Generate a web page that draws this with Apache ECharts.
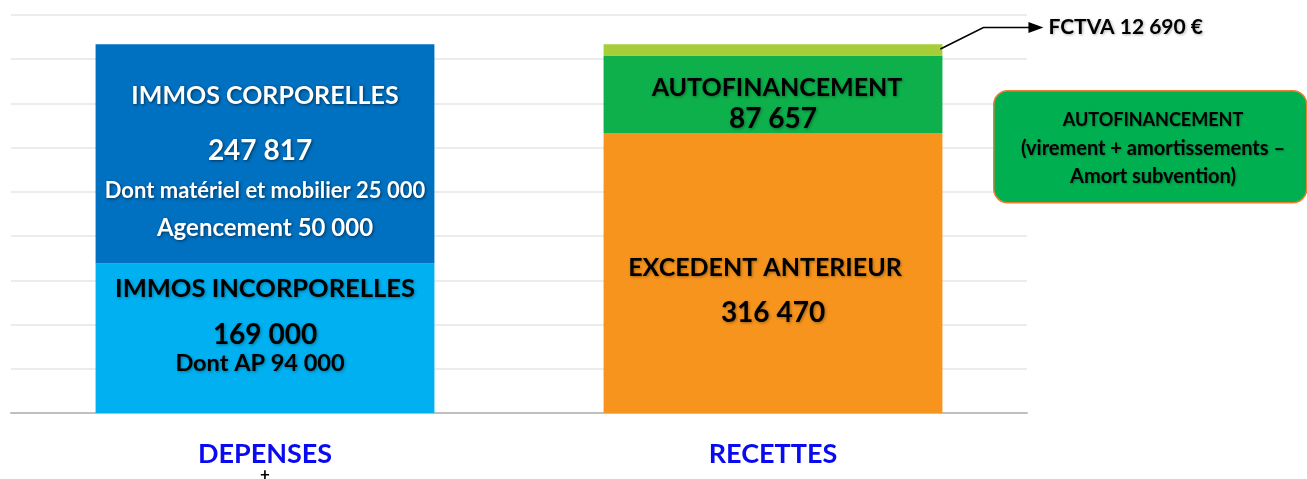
<!DOCTYPE html>
<html><head><meta charset="utf-8">
<script src="https://cdn.jsdelivr.net/npm/echarts@6/dist/echarts.min.js"></script>
<style>html,body{margin:0;padding:0;background:#fff}#c{width:1307px;height:479px}</style>
</head><body><div id="c"></div>
<script>
// ---- data ----
const categories = ['DEPENSES', 'RECETTES'];
const immosIncorporelles = [169000, '-'];
const immosCorporelles = [247817, '-'];
const excedentAnterieur = ['-', 316470];
const autofinancement = ['-', 87657];
const fctva = ['-', 12690];
const seriesNames = ['IMMOS INCORPORELLES', 'IMMOS CORPORELLES', 'EXCEDENT ANTERIEUR', 'AUTOFINANCEMENT', 'FCTVA'];
const corpDetails = ['Dont matériel et mobilier 25 000', 'Agencement 50 000'];
const incorpDetails = ['Dont AP 94 000'];
const boxLines = ['AUTOFINANCEMENT', '(virement + amortissements –', 'Amort subvention)'];
const yMax = 450000, yInterval = 50000;

// ---- helpers ----
const F = 'Lato, "Open Sans", sans-serif';
function fmt(n) { return String(n).replace(/\B(?=(\d{3})+(?!\d))/g, ' '); }
const shW = { textShadowColor: 'rgba(0,0,0,0.55)', textShadowBlur: 3, textShadowOffsetX: 1, textShadowOffsetY: 1 };
const shB = { textShadowColor: 'rgba(0,0,0,0.35)', textShadowBlur: 3, textShadowOffsetX: 1, textShadowOffsetY: 1 };
function rs(size, lh, color, sh, extra) {
  return Object.assign({ fontFamily: F, fontWeight: 'bold', fontSize: size, lineHeight: lh, color: color, verticalAlign: 'middle', align: 'center' }, sh, extra || {});
}
const BW = 0.667;

const chart = echarts.init(document.getElementById('c'), null, { renderer: 'canvas' });
const option = {
  animation: false,
  grid: { left: 11, right: 280, top: 15, bottom: 66, containLabel: false, outerBoundsMode: 'none' },
  xAxis: {
    type: 'category', data: categories,
    axisLine: { show: true, lineStyle: { color: '#bfbfbf', width: 2 } },
    axisTick: { show: false },
    axisLabel: {
      margin: 26, interval: 0,
      formatter: v => v === categories[0] ? '{a|' + v + '}\n{p|+}' : '{a|' + v + '}',
      rich: {
        a: { fontFamily: F, fontWeight: 'bold', fontSize: 27, lineHeight: 30, color: '#0a0af0', verticalAlign: 'middle' },
        p: { fontFamily: F, fontWeight: 'bold', fontSize: 17, lineHeight: 12, color: '#000', verticalAlign: 'middle' }
      }
    }
  },
  yAxis: {
    type: 'value', min: 0, max: yMax, interval: yInterval,
    axisLabel: { show: false }, axisLine: { show: false }, axisTick: { show: false },
    splitLine: { show: true, lineStyle: { color: '#ececec', width: 2 } }
  },
  series: [
    {
      name: seriesNames[0], type: 'bar', stack: 's', data: immosIncorporelles, barWidth: (BW * 100) + '%',
      itemStyle: { color: '#00b0f0' },
      label: {
        show: true, position: 'inside', offset: [0, -20],
        formatter: p => `{t|${p.seriesName}}\n{v|${fmt(p.value)}}\n{s|${incorpDetails[0]}}`,
        rich: { t: rs(25.5, 62, '#000', shB), v: rs(28, 29, '#000', shB), s: rs(23.5, 29, '#000', shB, { padding: [0, 10, 0, 0] }) }
      }
    },
    {
      name: seriesNames[1], type: 'bar', stack: 's', data: immosCorporelles,
      itemStyle: { color: '#0070c0' },
      label: {
        show: true, position: 'inside', offset: [0, 10],
        formatter: p => `{t|${p.seriesName}}\n{v|${fmt(p.value)}}\n{s|${corpDetails[0]}}\n{a|${corpDetails[1]}}`,
        rich: { t: rs(25, 50, '#fff', shW), v: rs(28, 60, '#fff', shW, { padding: [0, 10, 0, 0] }), s: rs(22, 19, '#fff', shW), a: rs(24, 57, '#fff', shW) }
      }
    },
    {
      name: seriesNames[2], type: 'bar', stack: 's', data: excedentAnterieur,
      itemStyle: { color: '#f7941d' },
      label: {
        show: true, position: 'inside', offset: [0, 17.5],
        formatter: p => `{t|${p.seriesName}}\n{v|${fmt(p.value)}}`,
        rich: { t: rs(25, 44.5, '#000', shB, { padding: [0, 16, 0, 0] }), v: rs(28, 44.5, '#000', shB) }
      }
    },
    {
      name: seriesNames[3], type: 'bar', stack: 's', data: autofinancement,
      itemStyle: { color: '#0db04b' },
      label: {
        show: true, position: 'inside', offset: [0, 9],
        formatter: p => `{t|${p.seriesName}}\n{v|${fmt(p.value)}}`,
        rich: { t: rs(25, 30.5, '#000', shB, { padding: [0, 0, 0, 8] }), v: rs(28, 30.5, '#000', shB) }
      }
    },
    {
      name: seriesNames[4], type: 'bar', stack: 's', data: fctva,
      itemStyle: { color: '#a6ce39' },
      label: {
        show: true, position: 'right', distance: 5, offset: [101, -22.5],
        formatter: p => `${p.seriesName} ${fmt(p.value)} €`,
        fontFamily: F, fontWeight: 'bold', fontSize: 21, color: '#000',
        textShadowColor: 'rgba(0,0,0,0.3)', textShadowBlur: 3, textShadowOffsetX: 1, textShadowOffsetY: 1
      }
    }
  ],
  graphic: [
    {
      type: 'rect', id: 'box', left: 993, top: 90, z: 10,
      shape: { width: 313, height: 112, r: 14 },
      style: { fill: '#00b050', stroke: '#ed7d31', lineWidth: 1.5 }
    },
    {
      type: 'text', id: 'boxText', x: 1153, y: 148.5, z: 11,
      style: {
        text: '{a|' + boxLines[0] + '}\n{b|' + boxLines[1] + '}\n{b|' + boxLines[2] + '}',
        align: 'center', verticalAlign: 'middle',
        rich: {
          a: { fontFamily: F, fontWeight: 'bold', fontSize: 18, lineHeight: 28, fill: '#000', align: 'center', verticalAlign: 'middle',
               textShadowColor: 'rgba(0,0,0,0.3)', textShadowBlur: 2, textShadowOffsetX: 1, textShadowOffsetY: 1 },
          b: { fontFamily: F, fontWeight: 'bold', fontSize: 20, lineHeight: 28, fill: '#000', align: 'center', verticalAlign: 'middle',
               textShadowColor: 'rgba(0,0,0,0.3)', textShadowBlur: 2, textShadowOffsetX: 1, textShadowOffsetY: 1 }
        }
      }
    }
  ]
};
chart.setOption(option);

// arrow from the top (FCTVA) segment to its label
const c0 = chart.convertToPixel({ gridIndex: 0 }, [0, 0]);
const c1 = chart.convertToPixel({ gridIndex: 0 }, [1, 0]);
const half = (c1[0] - c0[0]) * BW / 2;
const base = excedentAnterieur[1] + autofinancement[1];
const yA = chart.convertToPixel({ gridIndex: 0 }, [1, base])[1];
const yB = chart.convertToPixel({ gridIndex: 0 }, [1, base + fctva[1]])[1];
const x0 = c1[0] + half - 2, y0 = (yA + yB) / 2 - 1;
const ly = (yA + yB) / 2 - 22.5;
chart.setOption({
  graphic: [
    { type: 'polyline', id: 'arrowLine', z: 12, shape: { points: [[x0, y0], [x0 + 43, ly], [x0 + 90, ly]] }, style: { stroke: '#000', lineWidth: 1.6, fill: null } },
    { type: 'polygon', id: 'arrowHead', z: 12, shape: { points: [[x0 + 88, ly - 5.5], [x0 + 103, ly], [x0 + 88, ly + 5.5]] }, style: { fill: '#000' } }
  ]
});
</script>
</body></html>
